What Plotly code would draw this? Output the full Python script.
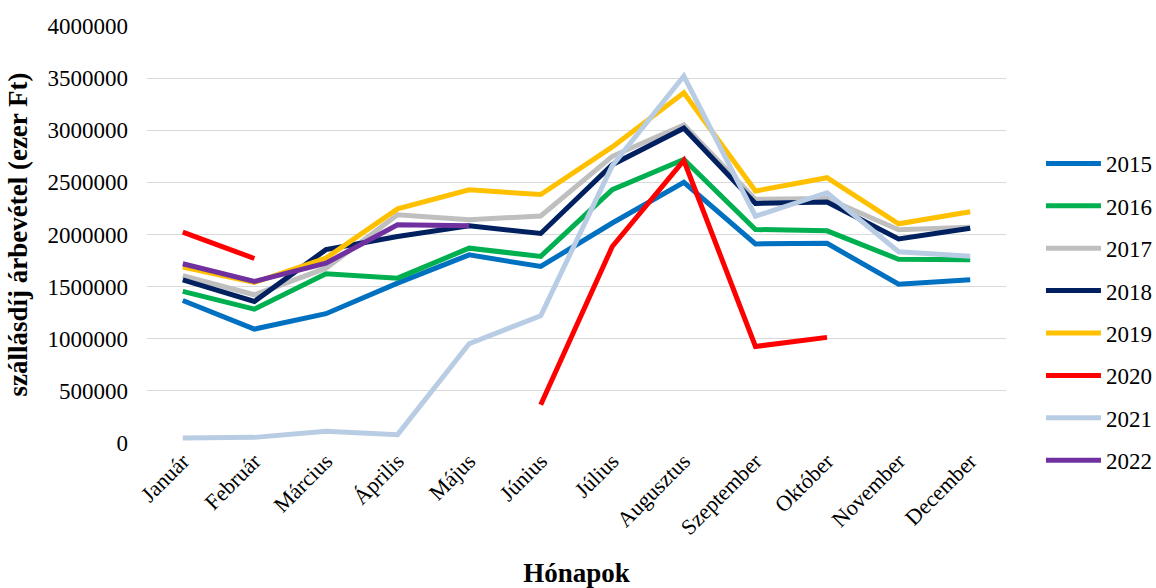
import plotly.graph_objects as go

# Months on the category axis
months = ["Január", "Február", "Március", "Április", "Május", "Június",
          "Július", "Augusztus", "Szeptember", "Október", "November", "December"]

# Monthly accommodation revenue (thousand HUF) per year
y2015 = [1367000, 1093000, 1240000, 1534000, 1805000, 1693000,
         2110000, 2500000, 1910000, 1915000, 1523000, 1565000]
y2016 = [1454000, 1284000, 1623000, 1581000, 1869000, 1790000,
         2430000, 2720000, 2048000, 2035000, 1762000, 1757000]
y2017 = [1604000, 1422000, 1677000, 2189000, 2141000, 2178000,
         2750000, 3050000, 2337000, 2345000, 2045000, 2070000]
y2018 = [1565000, 1358000, 1855000, 1981000, 2083000, 2010000,
         2670000, 3020000, 2298000, 2311000, 1958000, 2060000]
y2019 = [1687000, 1540000, 1773000, 2246000, 2428000, 2383000,
         2840000, 3360000, 2417000, 2545000, 2103000, 2219000]
y2020 = [2022000, 1770000, None, None, None, 367000,
         1885000, 2710000, 926000, 1013000, None, None]
y2021 = [48000, 54000, 112000, 80000, 952000, 1221000,
         2660000, 3520000, 2176000, 2401000, 1835000, 1791000]
y2022 = [1719000, 1550000, 1725000, 2093000, 2083000, None,
         None, None, None, None, None, None]

years = ["2015", "2016", "2017", "2018", "2019", "2020", "2021", "2022"]
series = [y2015, y2016, y2017, y2018, y2019, y2020, y2021, y2022]
colors = ["#0070C0", "#00B050", "#BFBFBF", "#002060",
          "#FFC000", "#FF0000", "#B8CCE4", "#7030A0"]

y_ticks = list(range(0, 4000001, 500000))

FONT = "Liberation Serif"

fig = go.Figure()
for name, vals, col in zip(years, series, colors):
    fig.add_trace(go.Scatter(
        x=months, y=vals, name=name, mode="lines",
        line=dict(color=col, width=5),
        connectgaps=False, legendgroup=name,
    ))

fig.update_layout(
    width=1156, height=588,
    margin=dict(l=147, r=150, t=26, b=145, autoexpand=False),
    paper_bgcolor="white", plot_bgcolor="white",
    font=dict(family=FONT, size=23, color="black"),
    showlegend=True,
    legend=dict(
        x=1.0407, xanchor="left", y=0.722, yanchor="top",
        font=dict(family=FONT, size=23, color="black"),
        tracegroupgap=9.5, itemwidth=55, bgcolor="rgba(0,0,0,0)",
    ),
    xaxis=dict(
        type="category", range=[-0.5, 11.5], tickangle=-45,
        showgrid=False, showline=False, zeroline=False, ticks="",
        automargin=False,
        tickfont=dict(family=FONT, size=22),
        title=dict(text="<b>Hónapok</b>", font=dict(family=FONT, size=27),
                   standoff=24),
    ),
    yaxis=dict(
        range=[0, 4000000], tickvals=y_ticks, tickformat="d",
        showgrid=True, gridcolor="#D9D9D9", gridwidth=1.3,
        zeroline=False, showline=False, ticks="", automargin=False,
        ticklabelstandoff=18,
        tickfont=dict(family=FONT, size=23),
        title=dict(text="<b>szállásdíj árbevétel (ezer Ft)</b>",
                   font=dict(family=FONT, size=27), standoff=12),
    ),
)

fig.write_html("out.html")
